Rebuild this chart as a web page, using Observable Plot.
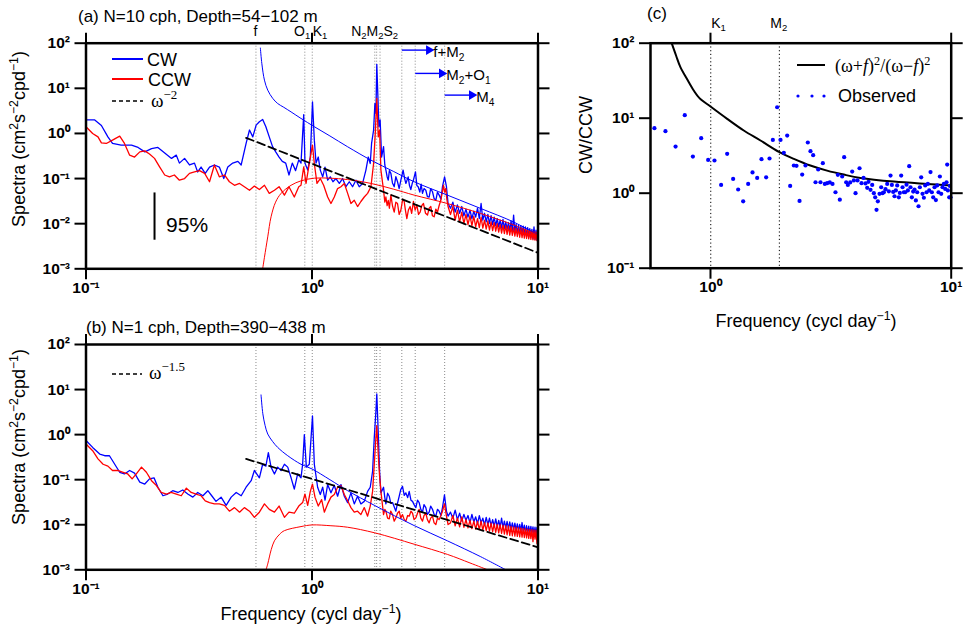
<!DOCTYPE html>
<html><head><meta charset="utf-8">
<script src="https://cdn.jsdelivr.net/npm/d3@7"></script>
<script src="https://cdn.jsdelivr.net/npm/@observablehq/plot@0.6"></script>
<style>
body{margin:0;background:#fff;}
#chart{position:relative;width:969px;height:631px;font-family:"Liberation Sans",Arial,sans-serif;color:#000;overflow:hidden;background:#fff}
.abs{position:absolute;white-space:nowrap;line-height:0.78}
.pnl{position:absolute}
sup,sub{font-size:0.68em;line-height:0}
.serif{font-family:"Liberation Serif","Times New Roman",serif}
</style></head><body><div id="chart"></div>
<script>
// ---------- data ----------
const xTicks = [0.1, 1, 10];
const yTicks = [1e-3, 1e-2, 1e-1, 1, 10, 100];
const cXTicks = [1, 10];
const cYTicks = [0.1, 1, 10, 100];
const tideNames = ["f","O1","K1","N2","M2","S2","f+M2","M2+O1","M4"];
const tideFreqs = [0.565, 0.9295, 1.0027, 1.896, 1.9323, 2.0, 2.497, 2.862, 3.864];
const cTideFreqs = [1.0027, 1.9323];

const aCW = [[0.100,2.0],[0.109,2.0],[0.117,1.5],[0.125,0.84],[0.131,0.60],[0.143,0.55],[0.159,0.55],[0.170,0.49],[0.182,0.39],[0.195,0.46],[0.208,0.49],[0.223,0.37],[0.239,0.28],[0.251,0.33],[0.259,0.22],[0.273,0.28],[0.287,0.20],[0.302,0.22],[0.312,0.14],[0.323,0.18],[0.337,0.13],[0.352,0.18],[0.370,0.20],[0.389,0.18],[0.407,0.10],[0.424,0.18],[0.446,0.22],[0.470,0.24],[0.486,0.20],[0.511,0.60],[0.529,1.19],[0.547,0.84],[0.566,1.53],[0.585,1.81],[0.605,2.04],[0.625,1.41],[0.647,0.84],[0.669,0.51],[0.691,0.39],[0.715,0.30],[0.739,0.24],[0.765,0.22],[0.791,0.12],[0.818,0.22],[0.846,0.15],[0.874,0.26],
[0.894,0.22],[0.919,2.6],[0.931,0.22],[0.957,0.154],[0.983,0.30],[1.005,5.0],[1.024,0.71],[1.042,0.22],[1.066,0.30],[1.088,0.154],[1.115,0.109],[1.142,0.18],[1.173,0.092],[1.205,0.109],[1.238,0.085],[1.276,0.10],[1.321,0.078],[1.366,0.10],[1.413,0.066],[1.462,0.085],[1.512,0.066],[1.564,0.092],[1.618,0.066],[1.674,0.078],[1.732,0.154],[1.774,0.30],[1.810,0.216],[1.835,0.60],[1.873,1.19],[1.898,4.6],[1.918,2.78],[1.935,34],[1.957,6.5],[1.977,1.41],[2.002,2.0],[2.032,0.30],[2.073,0.51],[2.10,0.2],[2.123,0.154],[2.15,0.11],[2.175,0.092],[2.2,0.15],[2.234,0.13],[2.27,0.08],[2.311,0.066],[2.35,0.11],[2.390,0.085],[2.43,0.06],[2.473,0.092],[2.53,0.154],[2.57,0.10],[2.602,0.078],[2.664,0.109],[2.70,0.07],[2.737,0.057],[2.78,0.08],[2.81,0.092],[2.87,0.141],[2.91,0.07],[2.95,0.066],[3.0,0.05],[3.04,0.075],[3.083,0.047],[3.13,0.06],[3.189,0.055],[3.24,0.04],[3.299,0.039],[3.35,0.06],[3.413,0.051],[3.47,0.036],[3.531,0.033],[3.59,0.05],[3.653,0.043],[3.72,0.035],[3.779,0.066],[3.86,0.109],[3.935,0.066],[4.0,0.028],
[4.1,0.022],[4.2,0.030],[4.3,0.018],[4.4,0.026],[4.5,0.017],[4.6,0.024],[4.7,0.015],[4.8,0.021],[4.9,0.014],[5.0,0.020],[5.1,0.013],[5.2,0.019],[5.3,0.014],[5.4,0.022],[5.5,0.013],[5.6,0.028],[5.7,0.012],[5.8,0.017],[5.9,0.011],[6.0,0.016],[6.1,0.010],[6.2,0.015],[6.3,0.0095],[6.4,0.014],[6.5,0.009],[6.6,0.013],[6.7,0.0085],[6.8,0.012],[6.9,0.008],[7.0,0.0125],[7.1,0.0078],[7.2,0.011],[7.3,0.0075],[7.4,0.0105],[7.5,0.007],[7.6,0.0115],[7.7,0.0068],[7.8,0.0155],[7.9,0.0065],[8.0,0.0098],[8.1,0.0062],[8.2,0.0092],[8.3,0.006],[8.4,0.009],[8.5,0.0058],[8.6,0.0088],[8.7,0.0056],[8.8,0.0085],[8.9,0.0052],[9.0,0.0082],[9.1,0.005],[9.2,0.0078],[9.3,0.0049],[9.4,0.0075],[9.5,0.0046],[9.6,0.0085],[9.7,0.0045],[9.8,0.0072],[9.9,0.0043],[10.0,0.006]];

const aCCW = [[0.100,1.41],[0.107,1.0],[0.113,0.84],[0.117,0.62],[0.123,0.60],[0.131,0.71],[0.141,0.87],[0.148,0.60],[0.156,0.33],[0.164,0.30],[0.173,0.39],[0.182,0.41],[0.191,0.35],[0.201,0.28],[0.212,0.18],[0.223,0.12],[0.234,0.109],[0.246,0.12],[0.259,0.092],[0.273,0.10],[0.287,0.13],[0.302,0.14],[0.318,0.15],[0.335,0.13],[0.352,0.085],[0.370,0.20],[0.389,0.109],[0.410,0.12],[0.431,0.085],[0.454,0.071],[0.478,0.078],[0.502,0.066],[0.529,0.055],[0.556,0.068],[0.585,0.057],[0.616,0.071],[0.647,0.047],[0.682,0.055],[0.715,0.066],[0.755,0.043],[0.791,0.066],[0.835,0.039],[0.874,0.066],
[0.894,0.071],[0.919,0.182],[0.941,0.078],[0.973,0.216],[1.005,0.55],[1.024,0.216],[1.052,0.078],[1.088,0.10],[1.126,0.071],[1.173,0.039],[1.213,0.028],[1.255,0.039],[1.298,0.060],[1.343,0.066],[1.390,0.078],[1.438,0.047],[1.487,0.028],[1.538,0.033],[1.591,0.024],[1.646,0.031],[1.703,0.039],[1.762,0.047],[1.823,0.066],[1.873,0.216],[1.905,1.0],[1.935,6.0],[1.964,0.84],[1.991,1.19],[2.018,0.154],[2.073,0.055],[2.10,0.03],[2.123,0.039],[2.15,0.025],[2.175,0.033],[2.2,0.022],[2.234,0.043],[2.27,0.025],[2.311,0.018],[2.35,0.03],[2.390,0.028],[2.43,0.016],[2.473,0.020],[2.52,0.035],[2.558,0.031],[2.59,0.02],[2.628,0.013],[2.67,0.02],[2.718,0.024],[2.76,0.017],[2.81,0.031],[2.86,0.02],[2.909,0.026],[2.96,0.016],[3.010,0.018],[3.06,0.025],[3.113,0.028],[3.18,0.017],[3.243,0.0155],[3.30,0.022],[3.355,0.024],[3.41,0.015],[3.471,0.0142],[3.53,0.021],[3.591,0.018],[3.65,0.025],[3.715,0.033],[3.817,0.071],[3.86,0.05],[3.908,0.060],[3.95,0.035],[4.0,0.024],
[4.1,0.016],[4.2,0.024],[4.3,0.012],[4.4,0.020],[4.5,0.011],[4.6,0.018],[4.7,0.010],[4.8,0.016],[4.9,0.0095],[5.0,0.015],[5.1,0.009],[5.2,0.0145],[5.3,0.0085],[5.4,0.013],[5.5,0.0082],[5.6,0.014],[5.7,0.008],[5.8,0.012],[5.9,0.0076],[6.0,0.0115],[6.1,0.0072],[6.2,0.011],[6.3,0.007],[6.4,0.0105],[6.5,0.0068],[6.6,0.01],[6.7,0.0065],[6.8,0.0095],[6.9,0.0062],[7.0,0.0092],[7.1,0.006],[7.2,0.009],[7.3,0.0058],[7.4,0.0088],[7.5,0.0056],[7.6,0.0085],[7.7,0.0055],[7.8,0.0082],[7.9,0.0053],[8.0,0.008],[8.1,0.0052],[8.2,0.0078],[8.3,0.005],[8.4,0.0076],[8.5,0.0049],[8.6,0.0074],[8.7,0.0048],[8.8,0.0072],[8.9,0.0047],[9.0,0.007],[9.1,0.0046],[9.2,0.0069],[9.3,0.0045],[9.4,0.0068],[9.5,0.0044],[9.6,0.0066],[9.7,0.0043],[9.8,0.0065],[9.9,0.0042],[10.0,0.006]];

const aCWmodel = [[0.591,78],[0.600,35],[0.616,15.2],[0.637,9.1],[0.670,6.0],[0.705,4.6],[0.75,3.8],[0.808,3.0],[0.894,2.15],[1.024,1.41],[1.2,0.88],[1.438,0.506],[1.823,0.256],[2.3,0.143],[2.83,0.085],[3.97,0.043],[5.58,0.0217],[7.83,0.0108],[10,0.0056]];
const aCCWmodel = [[0.605,0.001],[0.616,0.0018],[0.637,0.0051],[0.659,0.0142],[0.69,0.03],[0.730,0.047],[0.808,0.071],[0.894,0.089],[1.024,0.102],[1.2,0.102],[1.438,0.095],[1.823,0.078],[2.3,0.058],[2.83,0.043],[3.97,0.028],[5.58,0.0168],[7.83,0.0093],[10,0.0056]];
const aSlope = [[0.511,0.80],[10,0.00226]];
const aErrorBar = [{x:0.201, y1:0.0043, y2:0.048}];
const aErrorText = [{x:0.226, y:0.0092, text:"95%"}];
const aArrows = [
  {from:2.497, to:3.357, y:70.3, label:"f+M<sub>2</sub>"},
  {from:2.862, to:3.83, y:21.4, label:"M<sub>2</sub>+O<sub>1</sub>"},
  {from:3.864, to:5.2, y:7.07, label:"M<sub>4</sub>"}
];

const bCW = [[0.100,0.74],[0.107,0.52],[0.115,0.37],[0.121,0.34],[0.127,0.34],[0.134,0.22],[0.141,0.146],[0.148,0.134],[0.156,0.16],[0.164,0.14],[0.173,0.088],[0.182,0.08],[0.191,0.104],[0.200,0.11],[0.208,0.068],[0.219,0.044],[0.230,0.048],[0.242,0.057],[0.255,0.052],[0.268,0.059],[0.282,0.048],[0.297,0.041],[0.312,0.052],[0.329,0.044],[0.346,0.057],[0.360,0.044],[0.376,0.033],[0.396,0.041],[0.417,0.027],[0.439,0.041],[0.462,0.052],[0.486,0.044],[0.511,0.068],[0.538,0.095],[0.556,0.16],[0.585,0.11],[0.605,0.22],[0.625,0.20],[0.641,0.40],[0.659,0.19],[0.682,0.134],[0.705,0.19],[0.730,0.16],[0.755,0.22],[0.781,0.19],[0.808,0.11],[0.835,0.062],[0.864,0.134],[0.894,0.11],
[0.909,0.22],[0.925,1.0],[0.944,0.19],[0.973,0.22],[1.005,2.6],[1.024,0.22],[1.059,0.068],[1.088,0.047],[1.115,0.068],[1.142,0.035],[1.173,0.078],[1.213,0.051],[1.255,0.075],[1.298,0.043],[1.343,0.078],[1.390,0.043],[1.438,0.031],[1.487,0.051],[1.538,0.029],[1.591,0.043],[1.646,0.029],[1.703,0.033],[1.762,0.055],[1.810,0.068],[1.854,0.154],[1.886,0.86],[1.918,3.3],[1.935,8.0],[1.964,1.1],[1.991,0.154],[2.018,0.051],[2.073,0.068],[2.10,0.04],[2.123,0.029],[2.16,0.05],[2.197,0.043],[2.23,0.03],[2.272,0.031],[2.31,0.025],[2.350,0.020],[2.39,0.03],[2.432,0.043],[2.47,0.06],[2.515,0.071],[2.56,0.045],[2.602,0.051],[2.65,0.04],[2.692,0.055],[2.74,0.035],[2.785,0.033],[2.83,0.028],[2.881,0.024],[2.93,0.035],[2.980,0.031],[3.03,0.022],[3.083,0.019],[3.13,0.028],[3.189,0.024],[3.24,0.017],[3.299,0.019],[3.35,0.026],[3.413,0.022],[3.47,0.017],[3.531,0.0155],[3.59,0.022],[3.653,0.020],[3.72,0.016],[3.779,0.024],[3.856,0.046],[3.935,0.020],[4.0,0.0155],
[4.1,0.019],[4.2,0.014],[4.3,0.021],[4.4,0.013],[4.5,0.018],[4.6,0.012],[4.7,0.017],[4.8,0.0125],[4.9,0.016],[5.0,0.011],[5.1,0.017],[5.2,0.0115],[5.3,0.015],[5.4,0.0105],[5.5,0.016],[5.6,0.011],[5.7,0.014],[5.8,0.0098],[5.9,0.0145],[6.0,0.01],[6.1,0.014],[6.2,0.0095],[6.3,0.013],[6.4,0.0092],[6.5,0.0135],[6.6,0.009],[6.7,0.0125],[6.8,0.0088],[6.9,0.014],[7.0,0.0086],[7.1,0.012],[7.2,0.0085],[7.3,0.0118],[7.4,0.0083],[7.5,0.0115],[7.6,0.008],[7.7,0.011],[7.8,0.0078],[7.9,0.0108],[8.0,0.0076],[8.1,0.0105],[8.2,0.0074],[8.3,0.0102],[8.4,0.0072],[8.5,0.0112],[8.6,0.007],[8.7,0.0098],[8.8,0.0068],[8.9,0.0095],[9.0,0.0066],[9.1,0.0093],[9.2,0.0065],[9.3,0.0092],[9.4,0.0064],[9.5,0.009],[9.6,0.0062],[9.7,0.0088],[9.8,0.0061],[9.9,0.0087],[10.0,0.0068]];

const bCCW = [[0.100,0.62],[0.107,0.44],[0.113,0.29],[0.119,0.22],[0.125,0.20],[0.131,0.16],[0.138,0.16],[0.146,0.146],[0.153,0.134],[0.160,0.104],[0.167,0.134],[0.176,0.19],[0.185,0.146],[0.195,0.095],[0.205,0.074],[0.215,0.052],[0.227,0.048],[0.238,0.052],[0.251,0.048],[0.264,0.044],[0.278,0.065],[0.292,0.052],[0.307,0.048],[0.323,0.044],[0.337,0.034],[0.352,0.031],[0.370,0.029],[0.389,0.029],[0.410,0.027],[0.431,0.020],[0.454,0.024],[0.478,0.019],[0.502,0.024],[0.529,0.020],[0.556,0.0146],[0.585,0.019],[0.616,0.029],[0.647,0.022],[0.682,0.019],[0.715,0.026],[0.755,0.0146],[0.791,0.019],[0.835,0.018],[0.874,0.026],
[0.909,0.031],[0.931,0.048],[0.957,0.027],[0.983,0.055],[1.005,0.08],[1.031,0.041],[1.066,0.026],[1.103,0.036],[1.134,0.019],[1.173,0.029],[1.213,0.041],[1.255,0.047],[1.298,0.068],[1.343,0.074],[1.390,0.047],[1.438,0.034],[1.487,0.024],[1.538,0.019],[1.591,0.020],[1.646,0.0168],[1.703,0.024],[1.762,0.0155],[1.810,0.026],[1.854,0.055],[1.886,0.22],[1.918,0.87],[1.935,1.58],[1.964,0.36],[1.991,0.12],[2.018,0.055],[2.073,0.0168],[2.10,0.022],[2.123,0.020],[2.16,0.014],[2.197,0.0135],[2.23,0.02],[2.272,0.0168],[2.31,0.012],[2.350,0.0142],[2.39,0.018],[2.432,0.020],[2.47,0.014],[2.515,0.0168],[2.56,0.013],[2.602,0.012],[2.65,0.016],[2.692,0.0155],[2.74,0.02],[2.785,0.018],[2.83,0.013],[2.881,0.0142],[2.93,0.018],[2.980,0.022],[3.03,0.014],[3.083,0.012],[3.13,0.016],[3.189,0.018],[3.24,0.013],[3.299,0.011],[3.35,0.014],[3.413,0.0155],[3.47,0.011],[3.531,0.0101],[3.59,0.014],[3.653,0.013],[3.72,0.016],[3.779,0.020],[3.856,0.029],[3.935,0.0155],[4.0,0.0101],
[4.1,0.011],[4.2,0.016],[4.3,0.0095],[4.4,0.014],[4.5,0.009],[4.6,0.015],[4.7,0.0088],[4.8,0.013],[4.9,0.0085],[5.0,0.0125],[5.1,0.0082],[5.2,0.012],[5.3,0.008],[5.4,0.0118],[5.5,0.0078],[5.6,0.012],[5.7,0.0076],[5.8,0.0112],[5.9,0.0074],[6.0,0.011],[6.1,0.0072],[6.2,0.0108],[6.3,0.007],[6.4,0.0105],[6.5,0.0068],[6.6,0.0102],[6.7,0.0066],[6.8,0.01],[6.9,0.0064],[7.0,0.0098],[7.1,0.0062],[7.2,0.0096],[7.3,0.006],[7.4,0.0094],[7.5,0.0058],[7.6,0.0092],[7.7,0.0057],[7.8,0.009],[7.9,0.0056],[8.0,0.0088],[8.1,0.0055],[8.2,0.0086],[8.3,0.0054],[8.4,0.0085],[8.5,0.0053],[8.6,0.0083],[8.7,0.0052],[8.8,0.0082],[8.9,0.0051],[9.0,0.008],[9.1,0.005],[9.2,0.0079],[9.3,0.0049],[9.4,0.0078],[9.5,0.0042],[9.6,0.0077],[9.7,0.0048],[9.8,0.0076],[9.9,0.0038],[10.0,0.0065]];

const bCWmodel = [[0.595,7.6],[0.606,2.9],[0.62,1.6],[0.637,1.03],[0.67,0.7],[0.705,0.52],[0.781,0.34],[0.894,0.22],[1.0,0.173],[1.2,0.1],[1.438,0.057],[1.898,0.0266],[2.83,0.0096],[3.97,0.0044],[5.58,0.00195],[7.2,0.001]];
const bCCWmodel = [[0.626,0.001],[0.637,0.00135],[0.66,0.0028],[0.682,0.0044],[0.72,0.0062],[0.755,0.0074],[0.894,0.0091],[1.0,0.0099],[1.213,0.0095],[1.438,0.0088],[1.898,0.0066],[2.83,0.0037],[3.97,0.0022],[5.0,0.00142],[5.98,0.001]];
const bSlope = [[0.511,0.288],[10,0.00316]];

const cModel = [[0.69,100],[0.72,68],[0.75,48],[0.8,33],[0.852,23.4],[0.9,18.5],[1.0,14.3],[1.173,9.8],[1.375,6.85],[1.613,5.04],[1.935,3.52],[2.22,2.87],[2.60,2.34],[3.05,2.0],[3.58,1.77],[4.2,1.6],[5.78,1.43],[7.95,1.33],[10,1.27]];
const cObsFreq = [0.585,0.650,0.716,0.782,0.845,0.915,0.978,1.039,1.107,1.173,1.242,1.303,1.367,1.434,1.495,1.563,1.629,1.703,1.759,1.816,1.892,1.954,2.017,2.083,2.143,2.220,2.277,2.344,2.404,2.481,2.537,2.603,2.670,2.731,2.802,2.864,2.929,2.986,3.053,3.131,3.213,3.306,3.381,3.446,3.524,3.592,3.662,3.721,3.805,3.879,3.941,4.005,4.082,4.161,4.241,4.323,4.406,4.477,4.534,4.622,4.697,4.772,4.833,4.895,4.958,5.038,5.119,5.185,5.252,5.336,5.422,5.509,5.597,5.669,5.741,5.814,5.889,5.965,6.060,6.119,6.197,6.278,6.358,6.440,6.523,6.607,6.691,6.776,6.864,6.952,7.041,7.132,7.223,7.316,7.410,7.505,7.601,7.699,7.798,7.898,7.998,8.102,8.206,8.311,8.418,8.526,8.636,8.747,8.860,8.973,9.089,9.204,9.322,9.443,9.563,9.625,9.687,9.811,9.874,9.937];
const cObsRatio = [7.36,6.71,4.19,10.96,3.08,5.41,2.78,2.73,1.29,3.35,1.55,1.12,0.78,1.33,1.89,1.60,2.84,1.63,2.90,5.14,14.0,5.14,3.45,5.87,1.25,2.34,2.32,0.79,1.77,2.34,4.74,3.63,3.21,1.40,2.07,1.40,2.51,1.33,1.36,1.39,1.33,1.03,1.76,0.82,1.67,3.02,1.40,1.29,1.39,1.94,1.48,1.0,1.48,2.15,1.36,1.60,1.35,1.18,1.42,1.11,1.29,1.0,0.88,0.60,0.78,0.98,1.20,1.0,1.03,1.13,1.33,1.06,1.72,1.29,1.04,0.91,1.09,1.27,0.88,1.01,1.72,1.20,1.03,1.03,1.30,1.09,2.29,1.20,0.88,1.05,1.12,0.80,1.03,0.67,1.20,1.63,0.98,0.87,1.27,1.03,1.33,1.09,1.91,1.03,0.88,1.20,0.81,1.27,1.03,1.67,0.98,1.20,1.33,1.14,1.40,2.41,1.09,0.88,1.25,0.88];
const cObserved = cObsFreq.map((f, i) => [f, cObsRatio[i]]);

// ---------- helpers ----------
const BLUE = "#0000ff", RED = "#ff0000";
const chart = document.getElementById("chart");
const SUP = "⁰¹²³⁴⁵⁶⁷⁸⁹";
const pow10 = d => { const e = Math.round(Math.log10(d)); return "10" + String(e).replace("-", "⁻").replace(/\d/g, c => SUP[+c]); };
const X = d => d[0], Y = d => d[1];
const FONT = '"Liberation Sans", Arial, sans-serif';

function axes(xt, yt) {
  const common = {tickSize: 11, strokeWidth: 2, label: null};
  return [
    Plot.axisY({...common, anchor: "left", ticks: yt, tickPadding: 5, tickFormat: pow10, fontSize: 15.5, fontWeight: "bold"}),
    Plot.axisY({...common, anchor: "right", ticks: yt, fill: "none"}),
    Plot.axisX({...common, anchor: "bottom", ticks: xt, tickPadding: 2, tickFormat: pow10, fontSize: 15.5, fontWeight: "bold"}),
    Plot.axisX({...common, anchor: "top", ticks: xt, fill: "none"}),
    Plot.frame({stroke: "black", strokeWidth: 2.5})
  ];
}

function spectra(cw, ccw, cwM, ccwM, slope, marginTop, marginBottom, extra) {
  return Plot.plot({
    width: 560, height: 300,
    marginLeft: 85.5, marginRight: 22.5, marginTop, marginBottom,
    x: {type: "log", domain: [0.1, 10]},
    y: {type: "log", domain: [1e-3, 1e2]},
    style: {background: "transparent", overflow: "visible", fontFamily: FONT},
    marks: [
      Plot.ruleX(tideFreqs, {x: d => d, stroke: "#8a8a8a", strokeWidth: 1, strokeDasharray: "1,2"}),
      Plot.line(cw, {x: X, y: Y, stroke: BLUE, strokeWidth: 1.3, clip: true}),
      Plot.line(ccw, {x: X, y: Y, stroke: RED, strokeWidth: 1.3, clip: true}),
      Plot.line(cwM, {x: X, y: Y, stroke: BLUE, strokeWidth: 1, curve: "catmull-rom", clip: true}),
      Plot.line(ccwM, {x: X, y: Y, stroke: RED, strokeWidth: 1, curve: "catmull-rom", clip: true}),
      Plot.line(slope, {x: X, y: Y, stroke: "black", strokeWidth: 1.8, strokeDasharray: "8,4"}),
      ...(extra || []),
      ...axes(xTicks, yTicks)
    ]
  });
}

function place(el, left, top) {
  const d = document.createElement("div");
  d.className = "pnl"; d.style.left = left + "px"; d.style.top = top + "px";
  d.appendChild(el); chart.appendChild(d);
}
function txt(html, x, y, size, align, cls) { // y = visual centre
  const d = document.createElement("div");
  d.className = "abs " + (cls || "");
  d.innerHTML = html;
  d.style.fontSize = size + "px";
  d.style.left = x + "px"; d.style.top = y + "px";
  const tx = align === "start" ? "0" : align === "end" ? "-100%" : "-50%";
  d.style.transform = `translate(${tx},-50%)`;
  chart.appendChild(d);
}
function vtxt(html, x, y, size) {
  const d = document.createElement("div");
  d.className = "abs"; d.innerHTML = html;
  d.style.fontSize = size + "px";
  d.style.left = x + "px"; d.style.top = y + "px";
  d.style.transform = "translate(-50%,-50%) rotate(-90deg)";
  chart.appendChild(d);
}
function swatch(x1, x2, y, color, dash, w) {
  const s = `<svg width="${x2 - x1}" height="6" style="position:absolute;left:${x1}px;top:${y - 3}px;overflow:visible"><line x1="0" y1="3" x2="${x2 - x1}" y2="3" stroke="${color}" stroke-width="${w}" ${dash ? `stroke-dasharray="${dash}"` : ""}/></svg>`;
  chart.insertAdjacentHTML("beforeend", s);
}

// ---------- panel (a) ----------
const aExtra = [
  Plot.ruleX(aErrorBar, {x: "x", y1: "y1", y2: "y2", stroke: "black", strokeWidth: 2}),
  Plot.text(aErrorText, {x: "x", y: "y", text: "text", textAnchor: "start", fontSize: 21, fill: "black"}),
  Plot.link(aArrows, {x1: "from", x2: "to", y1: "y", y2: "y", stroke: BLUE, strokeWidth: 1.4}),
  Plot.dot(aArrows, {x: "to", y: "y", symbol: "triangle", rotate: 90, r: 3.6, fill: BLUE, stroke: "none", dx: -2})
];
const plotA = spectra(aCW, aCCW, aCWmodel, aCCWmodel, aSlope, 42.7, 31.7, aExtra);
const A_LEFT = 0, A_TOP = 0;
place(plotA, A_LEFT, A_TOP);

// ---------- panel (b) ----------
const plotB = spectra(bCW, bCCW, bCWmodel, bCCWmodel, bSlope, 44, 30.7, []);
place(plotB, 0, 300);

// ---------- panel (c) ----------
const plotC = Plot.plot({
  width: 409, height: 300,
  marginLeft: 90, marginRight: 18.3, marginTop: 42.7, marginBottom: 32.3,
  x: {type: "log", domain: [0.5634, 10]},
  y: {type: "log", domain: [0.1, 100]},
  style: {background: "transparent", overflow: "visible", fontFamily: FONT},
  marks: [
    Plot.ruleX(cTideFreqs, {x: d => d, stroke: "black", strokeWidth: 1, strokeDasharray: "1.2,2.5"}),
    Plot.line(cModel, {x: X, y: Y, stroke: "black", strokeWidth: 2, curve: "catmull-rom", clip: true}),
    Plot.dot(cObserved, {x: X, y: Y, r: 2.1, fill: BLUE, stroke: "none"}),
    ...axes(cXTicks, cYTicks)
  ]
});
const C_LEFT = 560, C_TOP = 0;
place(plotC, C_LEFT, C_TOP);

// ---------- annotations ----------
const xa = plotA.scale("x"), ya = plotA.scale("y");
const xc = plotC.scale("x");
// tidal labels above (a)
txt("f", A_LEFT + xa.apply(tideFreqs[0]), 31, 14, "middle");
txt("O<sub>1</sub>", A_LEFT + xa.apply(tideFreqs[2]) - 1.5, 31, 14, "end");
txt("K<sub>1</sub>", A_LEFT + xa.apply(tideFreqs[2]) + 1, 31, 14, "start");
txt("N<sub>2</sub>M<sub>2</sub>S<sub>2</sub>", A_LEFT + xa.apply(tideFreqs[4]) - 1.5, 31, 14, "middle");
for (const a of aArrows) txt(a.label, A_LEFT + xa.apply(a.to) + 3, A_TOP + ya.apply(a.y) + 2, 15, "start");
// (c) tidal labels
txt("K<sub>1</sub>", C_LEFT + xc.apply(cTideFreqs[0]) + 1, 23, 14, "start");
txt("M<sub>2</sub>", C_LEFT + xc.apply(cTideFreqs[1]), 23, 14, "middle");

// titles
txt("(a) N=10 cph, Depth=54−102 m", 78, 16.5, 17, "start");
txt("(b) N=1 cph, Depth=390−438 m", 86, 328, 17, "start");
txt("(c)", 647, 14, 17, "start");

// axis titles
vtxt("Spectra (cm<sup>2</sup>s<sup>−2</sup>cpd<sup>−1</sup>)", 19, 139, 18);
vtxt("Spectra (cm<sup>2</sup>s<sup>−2</sup>cpd<sup>−1</sup>)", 19, 437, 18);
txt("Frequency (cycl day<sup>−1</sup>)", 311, 614, 18, "middle");
vtxt("CW/CCW", 586, 135, 18);
txt("Frequency (cycl day<sup>−1</sup>)", 806, 321, 18, "middle");

// legend (a)
swatch(112, 143, 59.3, BLUE, null, 2);
txt("CW", 147, 59.5, 18, "start");
swatch(112, 143, 79.3, RED, null, 2);
txt("CCW", 148, 80, 18, "start");
swatch(112, 143, 100.7, "black", "4,3", 1.3);
txt("ω<sup>−2</sup>", 151, 100.5, 19, "start", "serif");
// legend (b)
swatch(112, 142, 374.3, "black", "4,3", 1.3);
txt("ω<sup>−1.5</sup>", 149, 373, 19, "start", "serif");
// legend (c)
swatch(797, 825, 65, "black", null, 2);
txt("(ω+<i>f</i>)<sup>2</sup>/(ω−<i>f</i>)<sup>2</sup>", 835, 66, 18, "start", "serif");
chart.insertAdjacentHTML("beforeend", `<svg width="40" height="8" style="position:absolute;left:794px;top:92px"><circle cx="4" cy="4" r="1.6" fill="${BLUE}"/><circle cx="18" cy="4" r="1.6" fill="${BLUE}"/><circle cx="30" cy="4" r="1.6" fill="${BLUE}"/></svg>`);
txt("Observed", 838, 96, 18, "start");
</script></body></html>
